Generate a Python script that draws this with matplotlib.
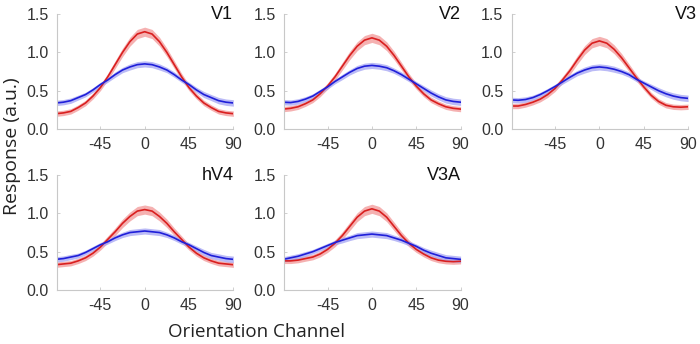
import numpy as np
import matplotlib.pyplot as plt

# orientation channels (deg)
orient = np.arange(-90, 90.1, 7.5)

# V1
v1_red = [0.20, 0.21, 0.23, 0.28, 0.34, 0.43, 0.54, 0.68, 0.84, 1.00, 1.14, 1.24, 1.27,
          1.24, 1.14, 1.00, 0.84, 0.68, 0.54, 0.43, 0.34, 0.28, 0.23, 0.21, 0.20]
v1_blue = [0.34, 0.35, 0.37, 0.41, 0.45, 0.51, 0.58, 0.64, 0.71, 0.77, 0.81, 0.84, 0.85,
           0.84, 0.81, 0.77, 0.71, 0.64, 0.58, 0.51, 0.45, 0.41, 0.37, 0.35, 0.34]
# V2
v2_red = [0.26, 0.27, 0.29, 0.33, 0.38, 0.46, 0.56, 0.68, 0.82, 0.96, 1.08, 1.16, 1.19,
          1.16, 1.08, 0.96, 0.82, 0.68, 0.56, 0.46, 0.38, 0.33, 0.29, 0.27, 0.26]
v2_blue = [0.35, 0.345, 0.36, 0.39, 0.43, 0.49, 0.55, 0.62, 0.68, 0.74, 0.79, 0.82, 0.83,
           0.82, 0.80, 0.76, 0.71, 0.65, 0.59, 0.53, 0.47, 0.42, 0.38, 0.36, 0.35]
# V3
v3_red = [0.30, 0.30, 0.32, 0.35, 0.39, 0.45, 0.53, 0.64, 0.76, 0.90, 1.03, 1.12, 1.15,
          1.12, 1.04, 0.93, 0.80, 0.67, 0.55, 0.44, 0.36, 0.31, 0.29, 0.285, 0.29]
v3_blue = [0.38, 0.375, 0.385, 0.41, 0.45, 0.50, 0.555, 0.615, 0.675, 0.73, 0.77, 0.80, 0.81,
           0.80, 0.78, 0.75, 0.71, 0.65, 0.60, 0.55, 0.50, 0.46, 0.43, 0.41, 0.40]
# hV4
hv4_red = [0.33, 0.34, 0.35, 0.38, 0.42, 0.48, 0.56, 0.66, 0.76, 0.87, 0.96, 1.03, 1.05,
           1.03, 0.96, 0.87, 0.76, 0.66, 0.56, 0.48, 0.42, 0.38, 0.35, 0.34, 0.33]
hv4_blue = [0.40, 0.41, 0.43, 0.45, 0.49, 0.54, 0.59, 0.63, 0.68, 0.72, 0.75, 0.76, 0.77,
            0.76, 0.75, 0.72, 0.68, 0.63, 0.59, 0.54, 0.49, 0.45, 0.43, 0.41, 0.40]
# V3A
v3a_red = [0.38, 0.38, 0.39, 0.41, 0.43, 0.47, 0.53, 0.61, 0.71, 0.83, 0.95, 1.03, 1.06,
           1.03, 0.95, 0.83, 0.71, 0.61, 0.53, 0.47, 0.42, 0.39, 0.375, 0.37, 0.375]
v3a_blue = [0.40, 0.42, 0.44, 0.47, 0.50, 0.54, 0.58, 0.62, 0.65, 0.68, 0.71, 0.72, 0.73,
            0.72, 0.71, 0.68, 0.65, 0.61, 0.57, 0.52, 0.48, 0.45, 0.42, 0.41, 0.40]

# shaded error (half width)
red_err = [0.035, 0.035, 0.035, 0.035, 0.036, 0.038, 0.04, 0.045, 0.05, 0.055, 0.058, 0.06, 0.06,
           0.06, 0.058, 0.055, 0.05, 0.045, 0.04, 0.038, 0.036, 0.035, 0.035, 0.035, 0.035]
blue_err = [0.035, 0.035, 0.035, 0.032, 0.03, 0.03, 0.03, 0.03, 0.035, 0.035, 0.04, 0.04, 0.04,
            0.04, 0.04, 0.035, 0.035, 0.032, 0.03, 0.035, 0.04, 0.04, 0.042, 0.042, 0.042]

names = ["V1", "V2", "V3", "hV4", "V3A"]
reds = [v1_red, v2_red, v3_red, hv4_red, v3a_red]
blues = [v1_blue, v2_blue, v3_blue, hv4_blue, v3a_blue]

# axes boxes in figure fractions
lefts = [0.0814, 0.406, 0.731, 0.0814, 0.406]
bottoms = [0.625, 0.625, 0.625, 0.157, 0.157]
W, H = 0.252, 0.334

RED, RED_FILL = '#d91f1f', '#f4a4a4'
BLUE, BLUE_FILL = '#1f1fd9', '#a4a4f4'
TICK_FONT = 'Liberation Sans'
LABEL_FONT = 'Open Sans'

fig = plt.figure(figsize=(7, 3.44), dpi=100)

for i in range(5):
  ax = fig.add_axes([lefts[i], bottoms[i], W, H])
  r = np.array(reds[i])
  b = np.array(blues[i])
  re = np.array(red_err)
  be = np.array(blue_err)
  ax.fill_between(orient, r - re, r + re, color=RED_FILL, lw=0, alpha=0.85)
  ax.fill_between(orient, b - be, b + be, color=BLUE_FILL, lw=0, alpha=0.75)
  ax.plot(orient, r, color=RED, lw=1.2)
  ax.plot(orient, b, color=BLUE, lw=1.2)
  ax.set_xlim(-89, 90)
  ax.set_ylim(0, 1.5)
  ax.set_xticks([-45, 0, 45, 90])
  ax.set_xticklabels(['-45', '0', '45', '90'])
  ax.set_yticks([0, 0.5, 1.0, 1.5])
  ax.set_yticklabels(['0.0', '0.5', '1.0', '1.5'])
  for s in ['top', 'right']:
    ax.spines[s].set_visible(False)
  for s in ['left', 'bottom']:
    ax.spines[s].set_color('#c8c8c8')
    ax.spines[s].set_linewidth(0.8)
  ax.tick_params(direction='in', length=2.5, width=0.6, color='#c8c8c8',
                 labelsize=11.5, labelcolor='#333333', pad=6)
  for lab in ax.get_xticklabels() + ax.get_yticklabels():
    lab.set_family(TICK_FONT)
  ax.text(1.0 if i != 2 else 1.05, 1.0, names[i], transform=ax.transAxes,
          ha='right', va='center', fontsize=13, family=TICK_FONT, color='#111111')

fig.text(0.017, 0.574, 'Response (a.u.)', rotation=90, ha='center', va='center',
         fontsize=14, family=LABEL_FONT, color='#222222')
fig.text(0.366, 0.035, 'Orientation Channel', ha='center', va='center',
         fontsize=13.5, family=LABEL_FONT, color='#222222')

fig.savefig('out.png', dpi=100)
